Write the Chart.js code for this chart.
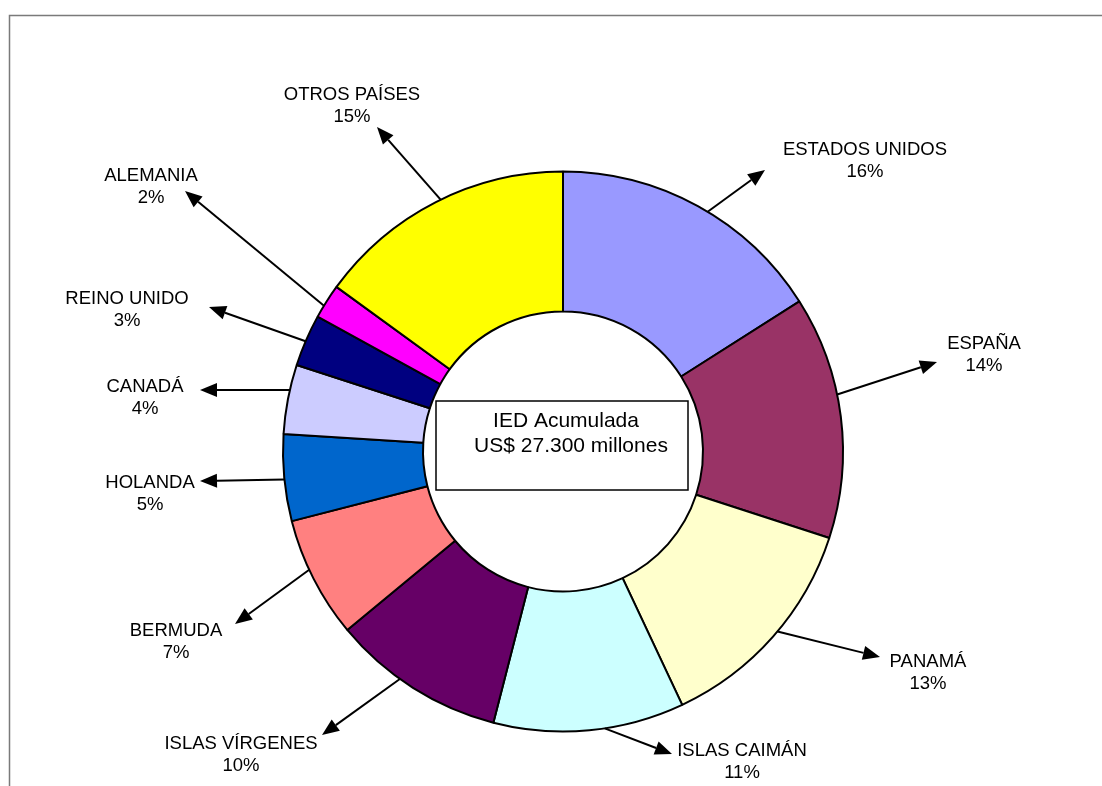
<!DOCTYPE html>
<html lang="es">
<head>
<meta charset="utf-8">
<title>IED Acumulada por país de origen</title>
<script src="https://cdn.jsdelivr.net/npm/chart.js@4/dist/chart.umd.min.js"></script>
<style>
  html, body { margin: 0; padding: 0; background: #fff; }
  #wrap { position: relative; width: 1102px; height: 786px; overflow: hidden; }
  canvas { display: block; }
</style>
</head>
<body>
<div id="wrap"><canvas id="chart" width="1102" height="786"></canvas></div>
<script>
// Foreign direct investment by country of origin (share of total, %)
const countries = [
  'ESTADOS UNIDOS', 'ESPAÑA', 'PANAMÁ', 'ISLAS CAIMÁN', 'ISLAS VÍRGENES',
  'BERMUDA', 'HOLANDA', 'CANADÁ', 'REINO UNIDO', 'ALEMANIA', 'OTROS PAÍSES'
];
const shares = [16, 14, 13, 11, 10, 7, 5, 4, 3, 2, 15];
const sliceColors = [
  '#9999FF', '#993366', '#FFFFCC', '#CCFFFF', '#660066',
  '#FF8080', '#0066CC', '#CCCCFF', '#000080', '#FF00FF', '#FFFF00'
];
const centerTitle = ['IED Acumulada', 'US$ 27.300 millones'];

const FONT = '"Liberation Sans", Arial, Helvetica, sans-serif';

// Callout placement: label centre, arrow tip (page pixels) and where along
// the slice's rim (0 = start, 1 = end) the arrow leaves from
const calloutLayout = [
  { text: [865, 150], tip: [765, 170], at: 0.54 },
  { text: [984, 344], tip: [937, 362], at: 0.41 },
  { text: [928, 662], tip: [880, 657], at: 0.47 },
  { text: [742, 751], tip: [672, 754], at: 0.42 },
  { text: [241, 744], tip: [322, 735], at: 0.59 },
  { text: [176, 631], tip: [235, 624], at: 0.58 },
  { text: [150, 483], tip: [200, 481], at: 0.48 },
  { text: [145, 387], tip: [200, 390], at: 0.63 },
  { text: [127, 299], tip: [209, 307], at: 0.48 },
  { text: [151, 176], tip: [185, 191], at: 0.36 },
  { text: [352,  95], tip: [377, 127], at: 0.52 }
];

function drawArrow(ctx, x0, y0, x1, y1) {
  const ang = Math.atan2(y1 - y0, x1 - x0);
  const headLen = 17, headHalf = 7;
  const bx = x1 - headLen * Math.cos(ang), by = y1 - headLen * Math.sin(ang);
  ctx.beginPath();
  ctx.moveTo(x0, y0);
  ctx.lineTo(bx, by);
  ctx.stroke();
  ctx.beginPath();
  ctx.moveTo(x1, y1);
  ctx.lineTo(bx + headHalf * Math.sin(ang), by - headHalf * Math.cos(ang));
  ctx.lineTo(bx - headHalf * Math.sin(ang), by + headHalf * Math.cos(ang));
  ctx.closePath();
  ctx.fill();
}

const decorations = {
  id: 'decorations',
  afterDraw(chart) {
    const ctx = chart.ctx;
    const meta = chart.getDatasetMeta(0);
    ctx.save();

    // outer frame (left and top edges visible)
    ctx.strokeStyle = '#7a7a7a';
    ctx.lineWidth = 1.5;
    ctx.beginPath();
    ctx.moveTo(9.5, 786);
    ctx.lineTo(9.5, 15.5);
    ctx.lineTo(1102, 15.5);
    ctx.stroke();

    // centre caption box
    ctx.fillStyle = '#fff';
    ctx.fillRect(436, 401, 252, 89);
    ctx.strokeStyle = '#000';
    ctx.lineWidth = 1.5;
    ctx.strokeRect(436, 401, 252, 89);
    ctx.fillStyle = '#000';
    ctx.font = '21px ' + FONT;
    ctx.textAlign = 'center';
    ctx.textBaseline = 'middle';
    ctx.fillText(centerTitle[0], 566, 421);
    ctx.fillText(centerTitle[1], 571, 446);

    // callouts: arrow from the slice's outer rim to its label
    ctx.lineWidth = 2;
    ctx.strokeStyle = '#000';
    ctx.fillStyle = '#000';
    ctx.font = '18.5px ' + FONT;
    meta.data.forEach((arc, i) => {
      const p = arc.getProps(['x', 'y', 'startAngle', 'endAngle', 'outerRadius'], true);
      const lay = calloutLayout[i];
      const a = p.startAngle + (p.endAngle - p.startAngle) * lay.at;
      const sx = p.x + Math.cos(a) * p.outerRadius;
      const sy = p.y + Math.sin(a) * p.outerRadius;
      drawArrow(ctx, sx, sy, lay.tip[0], lay.tip[1]);
      ctx.fillText(countries[i], lay.text[0], lay.text[1]);
      ctx.fillText(shares[i] + '%', lay.text[0], lay.text[1] + 22);
    });
    ctx.restore();
  }
};

new Chart(document.getElementById('chart'), {
  type: 'doughnut',
  data: {
    labels: countries,
    datasets: [{
      data: shares,
      backgroundColor: sliceColors,
      borderColor: '#000',
      borderWidth: 2
    }]
  },
  options: {
    responsive: false,
    animation: false,
    devicePixelRatio: 1,
    cutout: '50%',
    layout: { padding: { left: 282, right: 258, top: 170.5, bottom: 53.5 } },
    plugins: {
      legend: { display: false },
      tooltip: { enabled: false }
    }
  },
  plugins: [decorations]
});
</script>
</body>
</html>
